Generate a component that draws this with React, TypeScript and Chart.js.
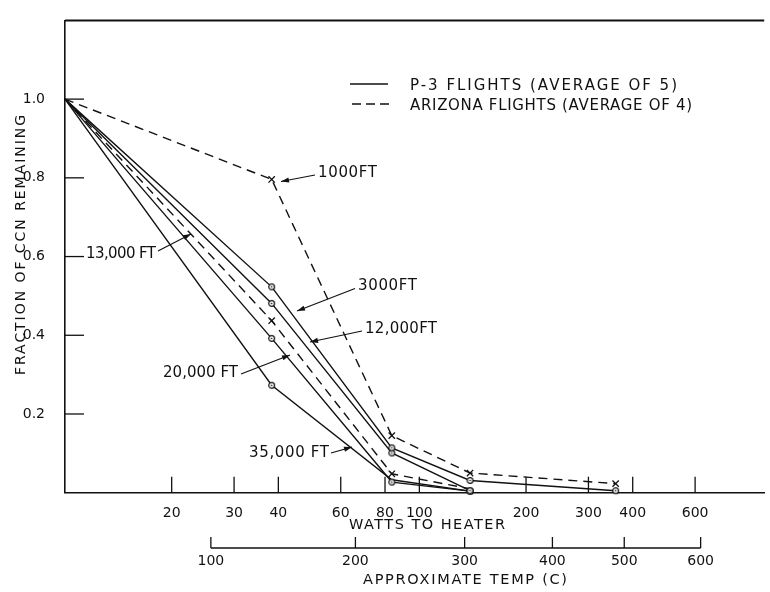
import React, { useEffect, useRef } from "react";
import { Chart, registerables } from "chart.js";
Chart.register(...registerables);

// ---- data ----
const wattsLevels = [10, 38.3, 83.6, 139, 358];
const ft1000 = [1.0, 0.796, 0.145, 0.05, 0.023];
const ft3000 = [1.0, 0.523, 0.114, 0.031, 0.005];
const ft12000 = [1.0, 0.481, 0.101, 0.005];
const ft13000 = [1.0, 0.437, 0.048, 0.01];
const ft20000 = [1.0, 0.392, 0.027, 0.004];
const ft35000 = [1.0, 0.273, 0.033, 0.004];

const wattsTicks = [20, 30, 40, 60, 80, 100, 200, 300, 400, 600];
const fractionTicks = [0.2, 0.4, 0.6, 0.8, 1.0];
const tempLabels = [100, 200, 300, 400, 500, 600];
const tempTickWatts = [25.8, 66.0, 134.2, 237.4, 378.6, 622];

const legendLabels = ["P-3 FLIGHTS (AVERAGE OF 5)", "ARIZONA FLIGHTS (AVERAGE OF 4)"];

// ---- layout / style ----
const INK = "#111";
const FONT = '"DejaVu Sans"';

const seriesDefs = [
  { label: "1000 FT", values: ft1000, dashed: true, hide: [0] },
  { label: "3000 FT", values: ft3000, dashed: false, hide: [0] },
  { label: "12,000 FT", values: ft12000, dashed: false, hide: [0] },
  { label: "13,000 FT", values: ft13000, dashed: true, hide: [0, 3] },
  { label: "20,000 FT", values: ft20000, dashed: false, hide: [0] },
  { label: "35,000 FT", values: ft35000, dashed: false, hide: [0, 2] },
];

// annotation labels: text left edge, centre y, width; leader from -> tip
const annotations = [
  { text: "1000FT", x: 318, y: 173, w: 59, from: [315, 175], to: [281, 181.5] },
  { text: "13,000 FT", x: 86, y: 254, w: 70, from: [158, 251], to: [191, 234] },
  { text: "3000FT", x: 358, y: 286, w: 59, from: [355, 288.5], to: [297, 311] },
  { text: "12,000FT", x: 365, y: 329.5, w: 72, from: [362, 331], to: [310, 342] },
  { text: "20,000 FT", x: 163, y: 373.5, w: 75, from: [241, 374], to: [290, 355] },
  { text: "35,000 FT", x: 249, y: 453.5, w: 80, from: [331, 453], to: [352, 447] },
];

function makeRing(): HTMLCanvasElement {
  const c = document.createElement("canvas");
  c.width = 9;
  c.height = 9;
  const g = c.getContext("2d")!;
  g.fillStyle = "#fff";
  g.beginPath();
  g.arc(4.5, 4.5, 2.9, 0, Math.PI * 2);
  g.fill();
  g.strokeStyle = INK;
  g.lineWidth = 1.2;
  g.stroke();
  g.fillStyle = INK;
  g.beginPath();
  g.arc(4.5, 4.5, 0.8, 0, Math.PI * 2);
  g.fill();
  return c;
}

function fitText(ctx: any, text: string, x: number, y: number, width: number, size: number, center = false) {
  ctx.font = `${size}px ${FONT}`;
  ctx.letterSpacing = "0px";
  const w0 = ctx.measureText(text).width;
  const n = text.length;
  let ls = n > 1 ? (width - w0) / (n - 1) : 0;
  if (ls < -1) ls = -1;
  ctx.letterSpacing = `${ls}px`;
  ctx.textAlign = "left";
  ctx.textBaseline = "middle";
  const left = center ? x - width / 2 : x;
  ctx.fillText(text, left, y);
  ctx.letterSpacing = "0px";
}

function arrow(ctx: any, x1: number, y1: number, x2: number, y2: number) {
  ctx.beginPath();
  ctx.moveTo(x1, y1);
  ctx.lineTo(x2, y2);
  ctx.stroke();
  const a = Math.atan2(y2 - y1, x2 - x1);
  const len = 8, hw = 2.6;
  ctx.beginPath();
  ctx.moveTo(x2, y2);
  ctx.lineTo(x2 - len * Math.cos(a) + hw * Math.sin(a), y2 - len * Math.sin(a) - hw * Math.cos(a));
  ctx.lineTo(x2 - len * Math.cos(a) - hw * Math.sin(a), y2 - len * Math.sin(a) + hw * Math.cos(a));
  ctx.closePath();
  ctx.fill();
}

const decorPlugin = {
  id: "decor",
  afterDraw(chart: any) {
    const ctx = chart.ctx;
    const { left, right, top, bottom } = chart.chartArea;
    const xs = chart.scales.x;
    const ys = chart.scales.y;
    ctx.save();
    ctx.strokeStyle = INK;
    ctx.fillStyle = INK;
    ctx.setLineDash([]);

    // top frame
    ctx.lineWidth = 2;
    ctx.beginPath();
    ctx.moveTo(left, top);
    ctx.lineTo(right, top);
    ctx.stroke();

    // inside ticks
    ctx.lineWidth = 1.3;
    fractionTicks.forEach((v) => {
      const y = ys.getPixelForValue(v);
      ctx.beginPath();
      ctx.moveTo(left, y);
      ctx.lineTo(left + 19, y);
      ctx.stroke();
    });
    wattsTicks.forEach((v) => {
      const x = xs.getPixelForValue(v);
      ctx.beginPath();
      ctx.moveTo(x, bottom);
      ctx.lineTo(x, bottom - 16);
      ctx.stroke();
    });

    // temperature scale
    const by = bottom + 55.3;
    const x0 = xs.getPixelForValue(tempTickWatts[0]);
    const x1 = xs.getPixelForValue(tempTickWatts[tempTickWatts.length - 1]);
    ctx.lineWidth = 1.3;
    ctx.beginPath();
    ctx.moveTo(x0, by);
    ctx.lineTo(x1, by);
    ctx.stroke();
    tempTickWatts.forEach((w, i) => {
      const x = xs.getPixelForValue(w);
      ctx.beginPath();
      ctx.moveTo(x, by);
      ctx.lineTo(x, by - 11);
      ctx.stroke();
      ctx.font = `14px ${FONT}`;
      ctx.textAlign = "center";
      ctx.textBaseline = "middle";
      ctx.fillText(String(tempLabels[i]), x, by + 13.5);
    });

    // axis titles
    fitText(ctx, "WATTS TO HEATER", 427, bottom + 33, 156, 14.5, true);
    fitText(ctx, "APPROXIMATE TEMP (C)", 465, bottom + 87.5, 204, 14.5, true);
    ctx.save();
    ctx.translate(21, 245);
    ctx.rotate(-Math.PI / 2);
    fitText(ctx, "FRACTION OF CCN REMAINING", 0, 0, 260, 14, true);
    ctx.restore();

    // legend
    ctx.lineWidth = 1.5;
    ctx.beginPath();
    ctx.moveTo(350, 84);
    ctx.lineTo(388, 84);
    ctx.stroke();
    ctx.setLineDash([9, 5]);
    ctx.beginPath();
    ctx.moveTo(352, 104);
    ctx.lineTo(390, 104);
    ctx.stroke();
    ctx.setLineDash([]);
    fitText(ctx, legendLabels[0], 410, 86, 267, 15);
    fitText(ctx, legendLabels[1], 410, 106, 282, 15);

    // annotations
    ctx.lineWidth = 1.2;
    annotations.forEach((a) => {
      fitText(ctx, a.text, a.x, a.y, a.w, 15);
      arrow(ctx, a.from[0], a.from[1], a.to[0], a.to[1]);
    });

    ctx.restore();
  },
};

export default function App() {
  const ref = useRef<HTMLCanvasElement | null>(null);
  useEffect(() => {
    if (!ref.current) return;
    const ring = makeRing();
    const datasets = seriesDefs.map((s) => ({
      label: s.label,
      data: s.values.map((v, i) => ({ x: wattsLevels[i], y: v })),
      borderColor: INK,
      backgroundColor: "#fff",
      borderWidth: 1.4,
      borderDash: s.dashed ? [9, 6] : [],
      pointStyle: s.dashed ? "crossRot" : ring,
      pointRadius: (c: any) => (s.hide.includes(c.dataIndex) ? 0 : s.dashed ? 4.5 : 3),
      pointBorderColor: INK,
      pointBorderWidth: 1.3,
      pointBackgroundColor: "#fff",
      tension: 0,
      fill: false,
      clip: false as any,
    }));
    const chart = new Chart(ref.current, {
      type: "line",
      data: { datasets },
      options: {
        animation: false,
        responsive: false,
        devicePixelRatio: 1,
        layout: { padding: { top: 6.5, left: 0, right: 0, bottom: 0 } },
        plugins: { legend: { display: false }, tooltip: { enabled: false } },
        scales: {
          x: {
            type: "logarithmic",
            min: 10,
            max: 940,
            grid: { display: false },
            border: { display: true, color: INK, width: 1.6 },
            afterBuildTicks: (axis: any) => {
              axis.ticks = wattsTicks.map((v) => ({ value: v }));
            },
            afterFit: (axis: any) => {
              axis.height = 99.3;
            },
            ticks: {
              autoSkip: false,
              maxRotation: 0,
              minRotation: 0,
              padding: 4,
              color: INK,
              font: { family: FONT, size: 14 },
              callback: (v: any) => String(v),
            },
          },
          y: {
            type: "linear",
            min: 0,
            max: 1.2,
            grid: { display: false },
            border: { display: true, color: INK, width: 1.6 },
            afterBuildTicks: (axis: any) => {
              axis.ticks = fractionTicks.map((v) => ({ value: v }));
            },
            afterFit: (axis: any) => {
              axis.width = 65;
            },
            ticks: {
              padding: 12,
              color: INK,
              font: { family: FONT, size: 14 },
              callback: (v: any) => Number(v).toFixed(1),
            },
          },
        },
      },
      plugins: [decorPlugin],
    });
    return () => chart.destroy();
  }, []);
  return (
    <div style={{ position: "absolute", left: 0, top: 0, width: 770, height: 592, background: "#fff" }}>
      <canvas ref={ref} width={770} height={592} />
    </div>
  );
}
